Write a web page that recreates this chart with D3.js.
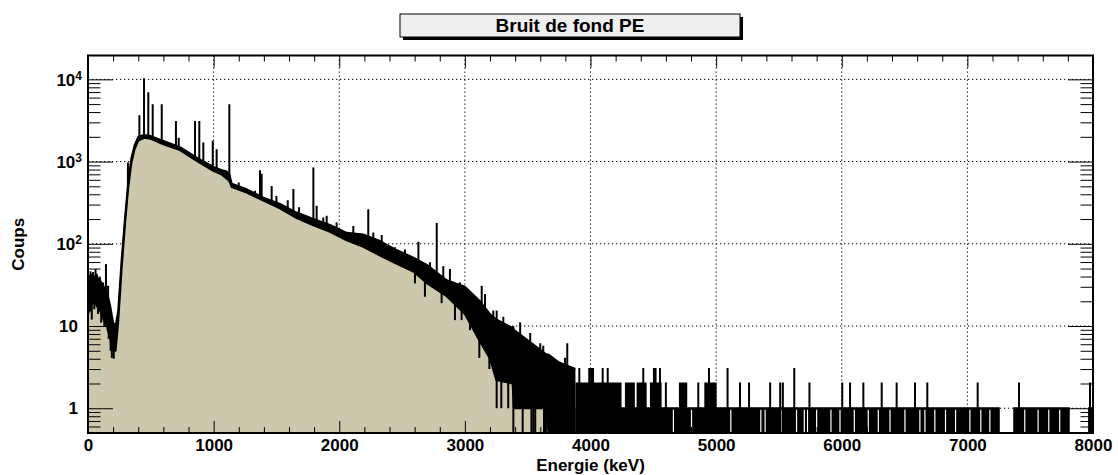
<!DOCTYPE html>
<html>
<head>
<meta charset="utf-8">
<script src="https://cdn.jsdelivr.net/npm/d3@7"></script>
<style>
  body { margin: 0; background: #fff; }
  text { font-family: "Liberation Sans", Arial, Helvetica, sans-serif; font-weight: bold; }
</style>
</head>
<body>
<svg id="chart" width="1118" height="475"></svg>
<script>
// ---- Spectrum data (energy in keV, counts per channel) ----
// Envelope of the trace: lower edge (top of filled area) and upper edge of the noisy line.
const knotEnergy = [0,25,50,75,100,125,150,175,200,220, 240,268,294,320,345,370,400,450,495,600,
  732,865,998,1060,1104,1125,1144,1263,1396,1528, 1661,1794,1926,2059,2191,2324,2450,2590,2700,2855,
  3000,3120,3200,3250,3380,3390,3650,3665,3750,3880];
const knotLow = [14,18,20,17,15,12,10,7,5,5, 11,50,170,480,950,1400,1800,1950,1900,1620,
  1380,1020,770,700,620,580,490,420,335,270, 205,168,140,110,92,72,58,46,33,23,
  14,6.5,4,2.2,2,1,1,0,0,0];
const knotHigh = [35,42,40,38,35,30,26,18,11,10, 15,65,200,560,1100,1560,2000,2100,2050,1780,
  1500,1120,860,790,760,700,540,460,365,305, 240,200,170,136,130,108,85,68,55,36,
  30,20,14,12,9.5,9,4.5,4.5,3.6,3];

// Gamma lines and single-channel upward excursions
const peakEnergy = [10,20,40,60,70,95,120,143,160,318, 409,446,480,515,587,700,722,852,886,918,
  993,1024,1125,1200,1330,1369,1382,1462,1500,1590, 1635,1680,1794,1820,1873,1900,1979,2112,2231,2271,
  2338,2351,2444,2523,2630,2722,2776,2828,2881,2948, 2961,3014,3094,3134,3160,3226,3253,3306,3386,3440,
  3520,3600,3624,3797,3815,3911,3990,4005,4020,4097, 4137,4420,4505,4518,4553,4600,4858,4943,5091,5190,
  5262,5430,5510,5531,5622,5743,6004,6066,6172,6318, 6437,6583,6681,7082,7411,7976];
const peakCounts = [40,45,44,48,42,38,33,55,30,950, 3550,10000,6770,4840,4840,3030,1900,3030,3030,1660,
  1740,1375,4840,540,430,760,690,490,370,330, 450,270,825,282,203,213,178,160,256,133,
  124,97,88,83,103,58,174,52,48,32, 33,26,19.7,30,23.8,15,15,12.6,9.7,10.8,
  8,6,5.6,4,6,3,3,3,3,3, 3,3,3,3,3,2,2,3,3,2,
  2,2,2,2,3,2,2,2,2,2, 2,2,2,2,2,2];

// Downward excursions of single channels below the filled area
const dipEnergy = [15,30,50,80,105,130,165,180,190,205, 2603,2682,2815,2921,2974,3041,3115,3195,3253,3290,
  3345,3386,3460,3530,3545,3560,3630,3645];
const dipCounts = [15,12,16,14,11,10,7,5,4.1,4, 33,22.7,19,11.8,11.8,8.9,4.1,3,1,1,
  1,0,0,0,0,0,0,0];

// High-energy tail: count level held over energy ranges (keV)
const tailFrom  = [3880,7365,7961, 3880,4274,4367,4473,4704,4906];
const tailTo    = [7258,7815,8000, 4247,4353,4447,4566,4770,5004];
const tailLevel = [1,1,1, 2,2,2,2,2,2];
// Empty channels inside the tail
const emptyEnergy = [4660,4804,5117,5356,5390,5523,5640,5702,5728,5800,5914,5986,6100,6211,6291,6384,
  6503,6622,6662,6741,6826,6906,7020,7107,7179,7457,7563,7648,7735];

// Axis ticks
const xMajor = [0,1000,2000,3000,4000,5000,6000,7000,8000];
const xMinor = d3.range(0, 8001, 200).filter(v => v % 1000 !== 0);
const yMajor = [1,10,100,1000,10000];
const yMajorLabel = [["1",""],["10",""],["10","2"],["10","3"],["10","4"]];

// ---- Layout ----
const svg = d3.select("#chart");
const frame = {left: 88, right: 1093, top: 55.5, bottom: 433};
const x = d3.scaleLinear().domain([0, 8000]).range([frame.left, frame.right]);
const y = d3.scaleLog().domain([0.5, 19500]).range([frame.bottom, frame.top]).clamp(true);
const yv = v => y(Math.max(v, 0.5));
const yMinor = [];
[0.1,1,10,100,1000,10000].forEach(d => { for (let m = 2; m <= 9; m++) { const v = d*m; if (v >= 0.5 && v <= 19500) yMinor.push(v); } });

const fillColor = "#cdc7ab";

// Value of an envelope at energy E along the drawn (log-linear) segments
function envelopeAt(arr, E) {
  const i = d3.bisectRight(knotEnergy, E);
  if (i <= 0) return arr[0];
  if (i >= knotEnergy.length) return arr[arr.length - 1];
  const e0 = knotEnergy[i-1], e1 = knotEnergy[i];
  const t = (E - e0) / (e1 - e0);
  const a = Math.log(Math.max(arr[i-1], 0.5)), b = Math.log(Math.max(arr[i], 0.5));
  return Math.exp(a + (b - a) * t);
}

// ---- Title box ----
svg.append("rect").attr("x", 403).attr("y", 17).attr("width", 340).attr("height", 23).attr("fill", "#000");
svg.append("rect").attr("x", 400).attr("y", 14).attr("width", 340).attr("height", 23)
  .attr("fill", "#efefef").attr("stroke", "#000").attr("stroke-width", 1);
svg.append("text").attr("x", 570).attr("y", 31.5).attr("text-anchor", "middle")
  .attr("font-size", 19).text("Bruit de fond PE");

// ---- Clip for the plotting area ----
svg.append("defs").append("clipPath").attr("id", "plotClip").append("rect")
  .attr("x", frame.left).attr("y", frame.top).attr("width", frame.right - frame.left).attr("height", frame.bottom - frame.top);

// ---- Grid ----
const grid = svg.append("g").attr("stroke", "#000").attr("stroke-width", 1).attr("stroke-dasharray", "1.3,2.7");
grid.selectAll("line.gx").data(xMajor.slice(1, -1)).join("line")
  .attr("x1", d => x(d)).attr("x2", d => x(d)).attr("y1", frame.top).attr("y2", frame.bottom);
grid.selectAll("line.gy").data(yMajor).join("line")
  .attr("x1", frame.left).attr("x2", frame.right).attr("y1", d => y(d)).attr("y2", d => y(d));

// ---- Spectrum ----
const plot = svg.append("g").attr("clip-path", "url(#plotClip)");
const knots = knotEnergy.map((e, i) => ({e, lo: knotLow[i], hi: knotHigh[i]}));

plot.append("path").datum(knots)
  .attr("fill", fillColor)
  .attr("d", d3.area().x(d => x(d.e)).y0(frame.bottom).y1(d => yv(d.lo)));

plot.append("path").datum(knots)
  .attr("fill", "#000")
  .attr("d", d3.area().x(d => x(d.e)).y0(d => yv(d.lo)).y1(d => yv(d.hi)));

["lo", "hi"].forEach(k => {
  plot.append("path").datum(knots)
    .attr("fill", "none").attr("stroke", "#000").attr("stroke-width", 2).attr("stroke-linejoin", "round")
    .attr("d", d3.line().x(d => x(d.e)).y(d => yv(d[k])));
});

// tail levels
plot.selectAll("rect.tail").data(tailFrom.map((f, i) => ({f, t: tailTo[i], lv: tailLevel[i]}))).join("rect")
  .attr("x", d => x(d.f)).attr("width", d => x(d.t) - x(d.f))
  .attr("y", d => yv(d.lv) - 1).attr("height", d => frame.bottom - yv(d.lv) + 1)
  .attr("fill", "#000");

// empty channels
plot.selectAll("line.empty").data(emptyEnergy).join("line")
  .attr("x1", d => x(d)).attr("x2", d => x(d))
  .attr("y1", yv(1) + 1.5).attr("y2", frame.bottom)
  .attr("stroke", "#fff").attr("stroke-width", 1.2);

// dips
plot.selectAll("line.dip").data(dipEnergy.map((e, i) => ({e, c: dipCounts[i]}))).join("line")
  .attr("x1", d => x(d.e)).attr("x2", d => x(d.e))
  .attr("y1", d => yv(d.c)).attr("y2", d => yv(envelopeAt(knotLow, d.e)))
  .attr("stroke", "#000").attr("stroke-width", 2);

// peaks
plot.selectAll("line.peak").data(peakEnergy.map((e, i) => ({e, c: peakCounts[i]}))).join("line")
  .attr("x1", d => x(d.e)).attr("x2", d => x(d.e))
  .attr("y1", d => yv(envelopeAt(knotLow, d.e)))
  .attr("y2", d => yv(d.c) - 1)
  .attr("stroke", "#000").attr("stroke-width", 2);

// ---- Axes ----
function styleAxis(g) {
  g.select(".domain").remove();
  g.selectAll(".tick line").attr("stroke", "#000").attr("stroke-width", 1);
  g.selectAll(".tick text").attr("fill", "#000").attr("font-size", 17)
    .style("font-family", "'Liberation Sans', Arial, sans-serif").style("font-weight", "bold");
}
svg.append("g").attr("transform", `translate(0,${frame.bottom})`)
  .call(d3.axisBottom(x).tickValues(xMajor).tickSize(-12).tickPadding(5.5).tickFormat(d3.format("d"))).call(styleAxis);
svg.append("g").attr("transform", `translate(0,${frame.bottom})`)
  .call(d3.axisBottom(x).tickValues(xMinor).tickSize(-6).tickFormat("")).call(styleAxis);
svg.append("g").attr("transform", `translate(0,${frame.top})`)
  .call(d3.axisTop(x).tickValues(xMajor).tickSize(-12).tickFormat("")).call(styleAxis);
svg.append("g").attr("transform", `translate(0,${frame.top})`)
  .call(d3.axisTop(x).tickValues(xMinor).tickSize(-6).tickFormat("")).call(styleAxis);

svg.append("g").attr("transform", `translate(${frame.left},0)`)
  .call(d3.axisLeft(y).tickValues(yMajor).tickSize(-25).tickFormat("")).call(styleAxis);
svg.append("g").attr("transform", `translate(${frame.left},0)`)
  .call(d3.axisLeft(y).tickValues(yMinor).tickSize(-12.5).tickFormat("")).call(styleAxis);
svg.append("g").attr("transform", `translate(${frame.right},0)`)
  .call(d3.axisRight(y).tickValues(yMajor).tickSize(-25).tickFormat("")).call(styleAxis);
svg.append("g").attr("transform", `translate(${frame.right},0)`)
  .call(d3.axisRight(y).tickValues(yMinor).tickSize(-12.5).tickFormat("")).call(styleAxis);

// y tick labels with powers of ten
yMajor.forEach((v, i) => {
  const [base, exp] = yMajorLabel[i];
  const t = svg.append("text").attr("text-anchor", "end").attr("font-size", 17)
    .attr("x", exp ? 82 : 78).attr("y", y(v) + 6.2);
  t.append("tspan").text(base);
  if (exp) t.append("tspan").attr("font-size", 12).attr("dy", -6).text(exp);
});

// frame
svg.append("rect").attr("x", frame.left).attr("y", frame.top)
  .attr("width", frame.right - frame.left).attr("height", frame.bottom - frame.top)
  .attr("fill", "none").attr("stroke", "#000").attr("stroke-width", 2);

// axis titles
svg.append("text").attr("x", (frame.left + frame.right) / 2).attr("y", 470.5).attr("text-anchor", "middle")
  .attr("font-size", 17).text("Energie (keV)");
svg.append("text").attr("transform", `translate(24,${(frame.top + frame.bottom) / 2}) rotate(-90)`)
  .attr("text-anchor", "middle").attr("font-size", 17).text("Coups");
</script>
</body>
</html>
